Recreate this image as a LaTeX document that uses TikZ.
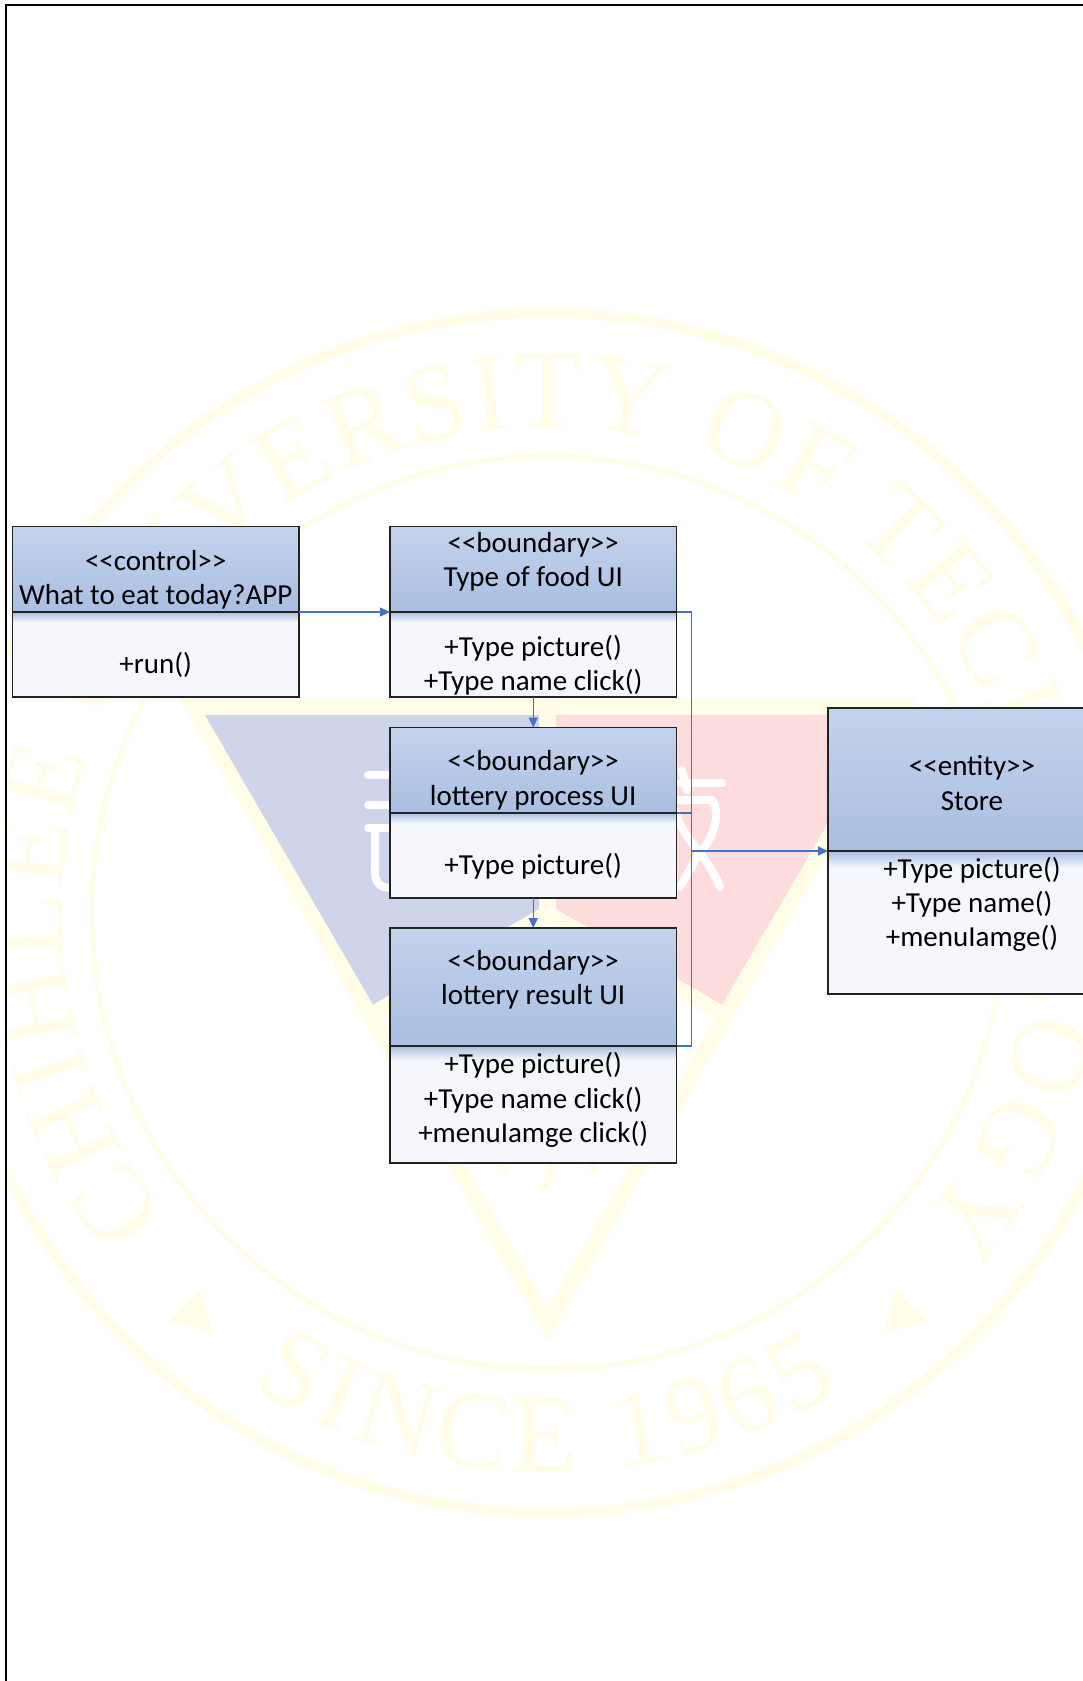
\documentclass[tikz,border=0pt]{standalone}
\usepackage{fontspec}
\usetikzlibrary{arrows.meta,decorations.text}
\setmainfont{Carlito}
\newfontfamily\sealfont{Liberation Serif}
\newcommand{\opn}{<{}<}
\newcommand{\cls}{>{}>}
\definecolor{sealy}{HTML}{FFFCE8}
\definecolor{sealb}{HTML}{CED4E9}
\definecolor{sealr}{HTML}{FDDCDD}
\definecolor{hdrtop}{HTML}{C4D3EC}
\definecolor{hdrbot}{HTML}{A9BEE2}
\definecolor{bodyc}{HTML}{F5F7FC}
\definecolor{linkc}{HTML}{4472C4}
\definecolor{edgec}{HTML}{222222}
\pgfdeclareverticalshading{bodyshade}{100bp}{color(0bp)=(bodyc); color(69bp)=(bodyc); color(75bp)=(hdrbot); color(100bp)=(hdrbot)}
\tikzset{
  hdrbox/.style={draw=edgec,line width=1.2pt,rectangle,inner sep=0pt,outer sep=0pt,anchor=north west,
    top color=hdrtop,bottom color=hdrbot},
  bodybox/.style={draw=edgec,line width=1.2pt,rectangle,inner sep=0pt,outer sep=0pt,anchor=north west,
    shade,shading=bodyshade},
  lbl/.style={align=center,inner sep=0pt,text=black,yshift=-1.5pt,font=\fontsize{29pt}{34.3pt}\selectfont},
  linkline/.style={draw=linkc,line width=1.3pt},
  linkarrow/.style={linkline,-{Triangle[length=10pt,width=9pt]}},
  sealline/.style={draw=sealy},
  sealstroke/.style={draw=white,line width=8pt,line cap=round,line join=round},
}
\begin{document}
\begin{tikzpicture}[x=1pt,y=-1pt]
\useasboundingbox (0,0) rectangle (1083,1681);
\clip (0,0) rectangle (1083,1681);
\fill[white] (0,0) rectangle (1083,1681);
% watermark
\begin{scope}
\clip (5.7,5) rectangle (1083,1681);
\fill[sealy] (180,699) -- (916,699) -- (548,1340) -- cycle;
\fill[white] (548,1308) -- (715,1018) -- (548,923) -- (381,1018) -- cycle;
\fill[sealb] (205,715) -- (539,715) -- (539,909) -- (373,1004.5) -- cycle;
\fill[sealr] (891,715) -- (556,715) -- (556,909) -- (722,1004.5) -- cycle;
\draw[sealstroke] (368,775) -- (390,775);
\draw[sealstroke] (368,805) -- (390,805);
\draw[sealstroke] (368,828) -- (390,828);
\draw[sealstroke] (375,832) -- (375,872) .. controls (375,885) and (382,888) .. (392,888);
\draw[sealstroke] (682,770) -- (687,790);
\draw[sealstroke] (680,783) -- (722,783);
\draw[sealstroke] (678,800) -- (712,800) .. controls (722,815) and (712,840) .. (700,852) -- (680,887);
\draw[sealstroke] (676,812) .. controls (682,840) and (705,850) .. (720,887);
\draw[sealy,line width=6pt,line cap=round] (500,1165) -- (506,1170);
\draw[sealy,line width=6pt,line cap=round] (590,1165) -- (594,1170);
\draw[sealy,line width=6pt,line cap=round] (550,1165) .. controls (552,1178) and (548,1184) .. (541,1187);
\fill[sealy] (200,1289) -- (168,1321) -- (212,1333) -- cycle;
\fill[sealy] (896,1289) -- (927,1321) -- (884,1333) -- cycle;
\begin{scope}[shift={(548,913)},x=1pt,y=1pt]
\draw[sealline,line width=10pt] (0,0) circle[radius=600pt];
\draw[sealline,line width=5pt] (0,0) circle[radius=456.5pt];
\path[postaction={decorate,decoration={text along path,text align=fit to path,
  text={|\sealfont\fontsize{110pt}{110pt}\selectfont\color{sealy}|CHIHLEE UNIVERSITY OF TECHNOLOGY}}}]
  (218.5:486pt) arc[start angle=218.5,end angle=-40,radius=486pt];
\path[postaction={decorate,decoration={text along path,text align=fit to path,
  text={|\sealfont\fontsize{110pt}{110pt}\selectfont\color{sealy}|SINCE 1965}}}]
  (238:559pt) arc[start angle=238,end angle=301.5,radius=559pt];
\end{scope}
\end{scope}
\draw[black,line width=2.2pt] (5.7,1681) -- (5.7,5) -- (1083,5);
% boxes
\node[hdrbox,minimum width=286.5pt,minimum height=85.3pt] (h1) at (12.5,526.7) {};
\node[bodybox,minimum width=286.5pt,minimum height=85pt] (b1) at (h1.south west) {};
\node[hdrbox,minimum width=286.5pt,minimum height=85.3pt] (h2) at (390,526.7) {};
\node[bodybox,minimum width=286.5pt,minimum height=85pt] (b2) at (h2.south west) {};
\node[hdrbox,minimum width=286.5pt,minimum height=85.5pt] (h3) at (390,727.5) {};
\node[bodybox,minimum width=286.5pt,minimum height=85pt] (b3) at (h3.south west) {};
\node[hdrbox,minimum width=286.5pt,minimum height=118pt] (h4) at (390,928) {};
\node[bodybox,minimum width=286.5pt,minimum height=117pt] (b4) at (h4.south west) {};
\node[hdrbox,minimum width=288pt,minimum height=143pt] (h5) at (828,708) {};
\node[bodybox,minimum width=288pt,minimum height=143pt] (b5) at (h5.south west) {};
% labels
\node[lbl] (t1) at (155.7,578) {\opn control\cls\\What to eat today?APP};
\node[lbl] (u1) at (155.7,663) {+run()};
\node[lbl] (t2) at (533.2,560) {\opn boundary\cls\\Type of food UI};
\node[lbl] (u2) at (533.2,663.7) {+Type picture()\\+Type name click()};
\node[lbl] (t3) at (533.2,778.7) {\opn boundary\cls\\lottery process UI};
\node[lbl] (u3) at (533.2,865) {+Type picture()};
\node[lbl] (t4) at (533.2,978.5) {\opn boundary\cls\\lottery result UI};
\node[lbl] (u4) at (533.2,1098.5) {+Type picture()\\+Type name click()\\+menuIamge click()};
\node[lbl] (t5) at (972,781.5) {\opn entity\cls\\Store};
\node[lbl] (u5) at (972,903) {+Type picture()\\+Type name()\\+menuIamge()};
% connectors
\coordinate (bus) at (691.7,851);
\draw[linkarrow] (h1.south east) -- (h2.south west);
\draw[linkarrow] (b2.south) -- (h3.north);
\draw[linkarrow] (b3.south) -- (h4.north);
\draw[linkline] (h2.south east) -| (bus);
\draw[linkline] (h3.south east) -| (bus);
\draw[linkline] (h4.south east) -| (bus);
\draw[linkarrow,line width=2pt] (bus) -- (h5.south west);
\end{tikzpicture}
\end{document}
